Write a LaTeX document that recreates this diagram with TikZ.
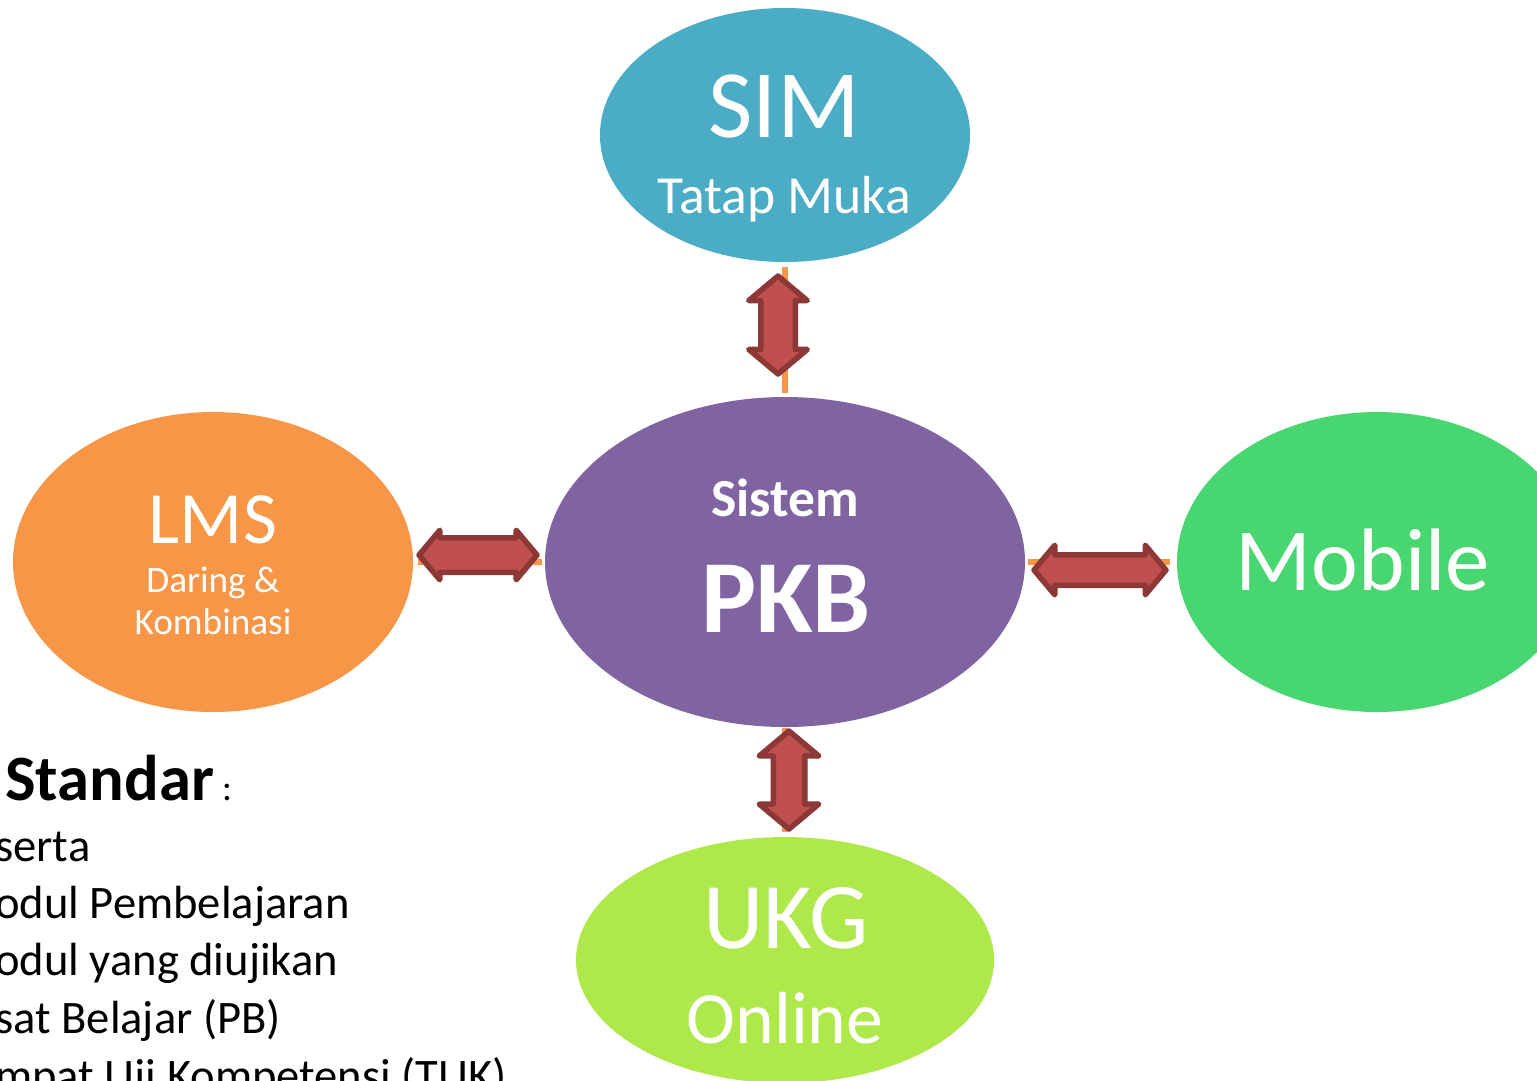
\documentclass[tikz,border=0pt]{standalone}
\usepackage{fontspec}
\setmainfont{Carlito}
\usetikzlibrary{shapes.geometric,shapes.arrows}
\definecolor{simc}{HTML}{4BACC6}
\definecolor{pkbc}{HTML}{8064A2}
\definecolor{lmsc}{HTML}{F79646}
\definecolor{mobc}{HTML}{47D66F}
\definecolor{ukgc}{HTML}{AEE84A}
\definecolor{arrf}{HTML}{C0504D}
\definecolor{arrd}{HTML}{8C3836}
\definecolor{linec}{HTML}{F79646}
\tikzset{
  blob/.style={ellipse, draw=none, inner sep=0pt},
  wtext/.style={text=white, inner sep=0pt, anchor=base},
  btext/.style={text=black, inner sep=0pt, anchor=base west},
  link/.style={draw=linec, line width=6*0.02cm},
  darrow/.style={double arrow, fill=arrf, draw=arrd, line width=5.5*0.02cm,
     line join=round, inner xsep=0pt, double arrow tip angle=100},
}
\newcommand{\fs}[1]{\fontsize{#1}{1.2\dimexpr#1pt\relax}\selectfont}
\begin{document}
\begin{tikzpicture}[x=0.02cm,y=-0.02cm]
\useasboundingbox (0,0) rectangle (1537,1080);
\clip (0,0) rectangle (1537,1080);
% ellipses
\node[blob, fill=simc, minimum width=370*0.02cm, minimum height=254*0.02cm] (sim) at (785,135) {};
\node[blob, fill=pkbc, minimum width=480*0.02cm, minimum height=330*0.02cm] (pkb) at (785,562) {};
\node[blob, fill=lmsc, minimum width=400*0.02cm, minimum height=300*0.02cm] (lms) at (213,562) {};
\node[blob, fill=mobc, minimum width=400*0.02cm, minimum height=300*0.02cm] (mob) at (1377,562) {};
\node[blob, fill=ukgc, minimum width=418*0.02cm, minimum height=246*0.02cm] (ukg) at (785,960) {};
% connector lines
\draw[link, shorten <=5*0.02cm, shorten >=4*0.02cm] (sim.south) -- (pkb.north);
\draw[link, shorten <=5*0.02cm, shorten >=3*0.02cm] (lms.east) -- (pkb.west);
\draw[link, shorten <=3*0.02cm, shorten >=7*0.02cm] (pkb.east) -- (mob.west);
\draw[link, shorten <=1*0.02cm, shorten >=5*0.02cm] (pkb.south) -- (ukg.north);
% double arrows
\node[darrow, rotate=90, minimum height=98*0.02cm, inner ysep=14.5*0.02cm, double arrow head extend=12*0.02cm] (a1) at (778,325) {};
\node[darrow, minimum height=118*0.02cm, inner ysep=14.5*0.02cm, double arrow head extend=7.5*0.02cm] (a2) at (478,555) {};
\node[darrow, minimum height=132*0.02cm, inner ysep=12.5*0.02cm, double arrow head extend=9.5*0.02cm] (a3) at (1100,570) {};
\node[darrow, rotate=90, minimum height=98*0.02cm, inner ysep=13*0.02cm, double arrow head extend=14*0.02cm] (a4) at (789,780) {};
% texts
\node[wtext] (t1) at (784,137) {\fs{55}SIM};
\node[wtext] (t2) at (784,213) {\fs{30.5}Tatap Muka};
\node[wtext] (t3) at (785,516) {\fs{30.5}\bfseries Sistem};
\node[wtext] (t4) at (786,632) {\fs{59}\bfseries PKB};
\node[wtext] (t5) at (213,543) {\fs{42}LMS};
\node[wtext] (t6) at (213,592) {\fs{21.2}Daring \&};
\node[wtext] (t7) at (213,634) {\fs{21.2}Kombinasi};
\node[wtext] (t8) at (1363,590) {\fs{50.5}Mobile};
\node[wtext] (t9) at (786,948) {\fs{53.5}UKG};
\node[wtext] (t10) at (785,1043) {\fs{42}Online};
% left text
\node[btext] (s0) at (5,800) {\fs{36.8}\bfseries Standar\fs{21}\mdseries\ :};
\node[btext] (s1) at (-5,861) {\fs{26.5}serta};
\node[btext] (s2) at (-5,918) {\fs{26.5}odul Pembelajaran};
\node[btext] (s3) at (-5,975) {\fs{26.5}odul yang diujikan};
\node[btext] (s4) at (-5,1033) {\fs{26.5}sat Belajar (PB)};
\node[btext] (s5) at (-5,1091) {\fs{26.5}mpat Uji Kompetensi (TUK)};
\end{tikzpicture}
\end{document}
